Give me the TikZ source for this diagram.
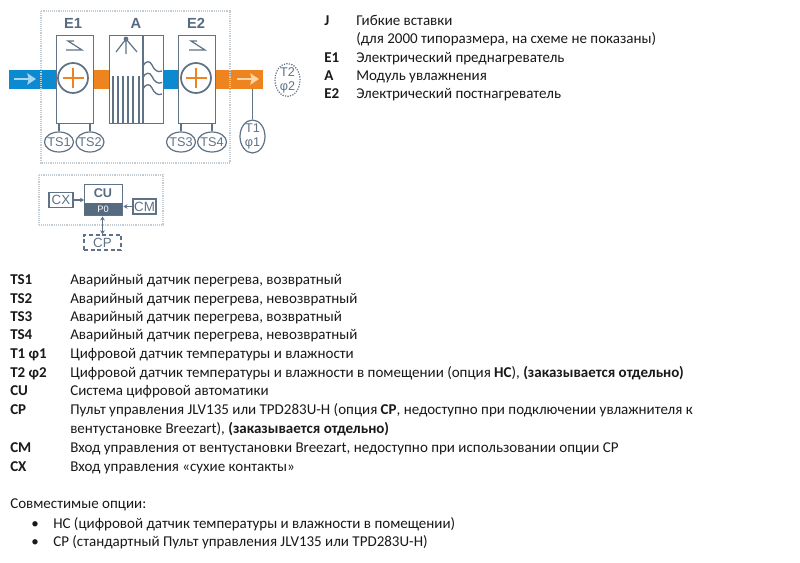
\documentclass[tikz,border=0pt]{standalone}
\usepackage{fontspec}
\setmainfont{Carlito}
\newfontfamily\labelfont{Liberation Sans}
\usetikzlibrary{arrows.meta,shapes.geometric}
\definecolor{ln}{HTML}{5F7286}
\definecolor{frameg}{HTML}{C4CDD4}
\definecolor{bl}{HTML}{0B8AD0}
\definecolor{og}{HTML}{EE8420}
\definecolor{lt}{HTML}{A9D6EE}
\definecolor{lo}{HTML}{F9D5A8}
\definecolor{dk}{HTML}{566A80}
\tikzset{
 x=0.75pt,y=-0.75pt,
 unit/.style={draw=ln,line width=1.1pt,fill=white,inner sep=0pt,anchor=north west},
 sens/.style={ellipse,draw=ln,line width=.9pt,fill=white,inner sep=-5pt,text=ln,font=\labelfont\fontsize{9.5}{10.5}\selectfont,align=center},
 tag/.style={draw=ln,line width=1.1pt,fill=white,inner sep=0pt,text=ln,font=\labelfont\fontsize{10}{11}\selectfont},
 head/.style={text=dk,font=\labelfont\bfseries\fontsize{11}{12}\selectfont,inner sep=0pt},
 conn/.style={draw=ln,line width=1pt},
 fl/.style={draw=frameg,dash pattern=on .7pt off .7pt,line width=1pt},
 txt/.style={anchor=base west,inner sep=0pt,font=\fontsize{11.25}{13}\selectfont,text=black!90},
 ktxt/.style={txt,font=\bfseries\fontsize{11.25}{13}\selectfont},
 flow/.style={line width=2pt,-{Stealth[length=6.5pt,width=8.5pt,inset=1pt]}},
}
\begin{document}
\begin{tikzpicture}
\useasboundingbox (0,0) rectangle (800,563);
\fill[white] (0,0) rectangle (800,563);
% air bands
\fill[bl] (9,70) rectangle (60,89);
\fill[og] (90,70) rectangle (112,89);
\fill[bl] (160,70) rectangle (180,89);
\fill[og] (212,70) rectangle (263,89);
\draw[fl] (41,11) rectangle (230,163);
\draw[lt,flow] (14,79) -- (36,79);
\draw[lo,flow] (237,79) -- (259,79);
% units
\node[unit,minimum width=37pt*.75,minimum height=88pt*.75] (e1) at (56,35) {};
\node[unit,minimum width=37pt*.75,minimum height=88pt*.75] (e2) at (178,35) {};
\node[unit,minimum width=54pt*.75,minimum height=88pt*.75] (a) at (109,35) {};
\node[head] (le1) at (73,23) {E1};
\node[head] (la) at (136,23) {A};
\node[head] (le2) at (196,23) {E2};
\foreach \u/\c in {e1/73,e2/196}{
 \node[circle,draw=ln,line width=1.3pt,minimum size=30pt*.75,inner sep=0pt,fill=white] (c\u) at (\c,78) {};
 \draw[og,line width=1.2pt] (\c-10,78) -- (\c+11,78) (\c,68) -- (\c,88);
 \draw[ln,line width=.9pt] (\c+1,41) -- (\c-5,41) -- (\c+9,50) -- (\c-7,50);
}
% humidifier
\draw[ln,line width=1.1pt] (143,35) -- (143,123);
\fill[ln] (126,39) circle (2.4);
\draw[ln,line width=.9pt] (126,39) -- (126,54) (126,39) -- (116,52) (126,39) -- (137,52);
\foreach \x in {113,118,123,128,133,139}{\draw[ln,line width=.9pt] (\x,76) -- (\x,123);}
\foreach \y in {62,73.5,85}{
 \draw[ln,line width=1pt] (143,\y+4) .. controls (145,\y-1) and (150,\y-2) .. (152,\y+3) .. controls (154,\y+8) and (158,\y+11) .. (162,\y+9);
}
% sensors
\node[sens,minimum width=29pt*.75,minimum height=20pt*.75] (ts1) at (59,142) {TS1};
\node[sens,minimum width=28pt*.75,minimum height=20pt*.75] (ts2) at (90,142) {TS2};
\node[sens,minimum width=29pt*.75,minimum height=20pt*.75] (ts3) at (181,142) {TS3};
\node[sens,minimum width=29pt*.75,minimum height=20pt*.75] (ts4) at (212,142) {TS4};
\node[sens,minimum width=25pt*.75,minimum height=33pt*.75] (t1) at (252.5,136.5) {T1\\φ1};
\node[sens,densely dotted,minimum width=25pt*.75,minimum height=33pt*.75] (t2) at (287.5,80) {T2\\φ2};
\coordinate (f1) at (252.5,89);
\draw[conn] (ts1.north) -- (ts1.north |- e1.south);
\draw[conn] (ts2.north) -- (ts2.north |- e1.south);
\draw[conn] (ts3.north) -- (ts3.north |- e2.south);
\draw[conn] (ts4.north) -- (ts4.north |- e2.south);
\draw[conn,line width=1.1pt] (f1) -- (t1.north);
% control
\draw[fl] (39,175) rectangle (163,225);
\node[unit,minimum width=38pt*.75,minimum height=31pt*.75] (cu) at (84,184) {};
\fill[dk] (84,203) rectangle (122,215);
\node[head,font=\labelfont\bfseries\fontsize{9.5}{10}\selectfont] (lcu) at (103,193.5) {CU};
\node[inner sep=0pt,text=white,font=\labelfont\fontsize{7}{8}\selectfont] (p0) at (103,209) {P0};
\node[tag,minimum width=24pt*.75,minimum height=15pt*.75] (cx) at (61,200) {CX};
\node[tag,minimum width=23pt*.75,minimum height=15pt*.75] (cm) at (144.5,206.5) {CM};
\node[tag,densely dashed,minimum width=37pt*.75,minimum height=15pt*.75] (cp) at (102.5,242.5) {CP};
\draw[conn,-{Stealth[length=3pt,width=3.5pt]}] (cx.east) -- (cx.east -| cu.west);
\draw[conn,-{Stealth[length=3pt,width=3.5pt]}] (cm.west) -- (cm.west -| cu.east);
\draw[conn,{Stealth[length=3pt,width=3.5pt]}-{Stealth[length=3pt,width=3.5pt]}] (cp.north) -- (cp.north |- cu.south);
% top legend
\node[ktxt] (k1) at (324,26) {J};
\node[txt] (v1) at (356,26) {Гибкие вставки};
\node[txt] (v1b) at (356,44) {(для 2000 типоразмера, на схеме не показаны)};
\node[ktxt] (k2) at (324,63) {E1};
\node[txt] (v2) at (356,63) {Электрический преднагреватель};
\node[ktxt] (k3) at (324,81) {A};
\node[txt] (v3) at (356,81) {Модуль увлажнения};
\node[ktxt] (k4) at (324,99) {E2};
\node[txt] (v4) at (356,99) {Электрический постнагреватель};
% main legend
\foreach \n/\y/\k/\v in {
 a/284/TS1/{Аварийный датчик перегрева, возвратный},
 b/303/TS2/{Аварийный датчик перегрева, невозвратный},
 c/321/TS3/{Аварийный датчик перегрева, возвратный},
 d/339/TS4/{Аварийный датчик перегрева, невозвратный},
 e/358/T1 φ1/{Цифровой датчик температуры и влажности},
 f/377/T2 φ2/{Цифровой датчик температуры и влажности в помещении (опция \textbf{HC}), \textbf{(заказывается отдельно)}},
 g/395/CU/{Система цифровой автоматики},
 h/414/CP/{Пульт управления JLV135 или TPD283U-H (опция \textbf{CP}, недоступно при подключении увлажнителя к},
 i/452/CM/{Вход управления от вентустановки Breezart, недоступно при использовании опции CP},
 j/471/CX/{Вход управления «сухие контакты»}}{
 \node[ktxt] (k\n) at (10,\y) {\k};
 \node[txt] (v\n) at (70,\y) {\v};
}
\node[txt] (vh2) at (70,433) {вентустановке Breezart), \textbf{(заказывается отдельно)}};
\node[txt] (opt) at (10,508) {Совместимые опции:};
\node[txt] (b1) at (31,528) {•};
\node[txt] (o1) at (53,528) {HC (цифровой датчик температуры и влажности в помещении)};
\node[txt] (b2) at (31,546) {•};
\node[txt] (o2) at (53,546) {CP (стандартный Пульт управления JLV135 или TPD283U-H)};
\end{tikzpicture}
\end{document}
